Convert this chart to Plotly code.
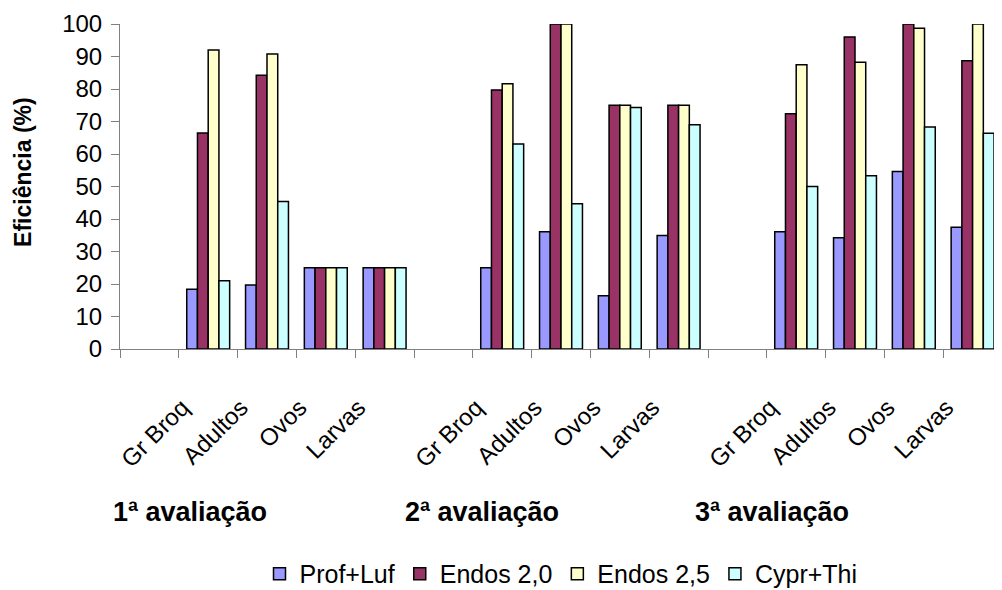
import plotly.graph_objects as go

# ---- data ----
categories = ["", "Gr Broq", "Adultos", "Ovos", "Larvas",
              "", "Gr Broq", "Adultos", "Ovos", "Larvas",
              "", "Gr Broq", "Adultos", "Ovos", "Larvas"]
evaluations = ["1ª avaliação", "2ª avaliação", "3ª avaliação"]

prof_luf = [None, 18.4, 19.7, 25, 25, None, 25, 36.1, 16.4, 34.9, None, 36.1, 34.2, 54.6, 37.5]
endos_20 = [None, 66.5, 84.2, 25, 25, None, 79.7, 100, 75, 75, None, 72.4, 96.0, 100, 88.7]
endos_25 = [None, 92.0, 90.8, 25, 25, None, 81.6, 100, 75, 75, None, 87.5, 88.2, 98.7, 100]
cypr_thi = [None, 21.0, 45.4, 25, 25, None, 63.1, 44.7, 74.3, 69.0, None, 50.0, 53.3, 68.3, 66.4]

series_names = ["Prof+Luf", "Endos 2,0", "Endos 2,5", "Cypr+Thi"]
series_values = [prof_luf, endos_20, endos_25, cypr_thi]
series_colors = ["#9999FF", "#993366", "#FFFFCC", "#CCFFFF"]

FONT = "Liberation Sans, Arial, sans-serif"
AXIS_GRAY = "#808080"

# page body has an 8px default margin, so the figure is sized to fit the window
W, H = 994, 582
ML, MT, MB = 112, 16, 241
PW = W - ML
PH = H - MT - MB

x_idx = list(range(len(categories)))

fig = go.Figure()
for name, vals, col in zip(series_names, series_values, series_colors):
    fig.add_trace(go.Bar(
        x=x_idx, y=vals, name=name,
        marker=dict(color=col, line=dict(color="black", width=1.5)),
    ))

fig.update_layout(
    width=W, height=H,
    margin=dict(l=ML, r=0, t=MT, b=MB, autoexpand=False),
    plot_bgcolor="white", paper_bgcolor="white",
    barmode="group", bargap=0.27, bargroupgap=0,
    font=dict(family=FONT, size=24, color="black"),
    showlegend=True,
    legend=dict(orientation="h", x=0.5, xanchor="center", y=-0.692, yanchor="middle",
                font=dict(size=25), itemwidth=30, tracegroupgap=0,
                bgcolor="rgba(0,0,0,0)"),
)

fig.update_xaxes(
    range=[-0.5, len(categories) - 0.5],
    tickmode="array", tickvals=x_idx, ticktext=categories,
    tickangle=-45, ticks="", tickfont=dict(size=24),
    ticklabelstandoff=34, ticklabelshift=-26,
    showline=True, linecolor=AXIS_GRAY, linewidth=1,
    showgrid=False, zeroline=False, automargin=False,
    minor=dict(tick0=-0.5, dtick=1, ticks="outside", ticklen=8,
               tickcolor=AXIS_GRAY, tickwidth=1, showgrid=False),
)

fig.update_yaxes(
    range=[0, 100], dtick=10, tick0=0,
    ticks="outside", ticklen=8, tickcolor=AXIS_GRAY, tickwidth=1,
    ticklabelstandoff=4,
    showline=True, linecolor=AXIS_GRAY, linewidth=1,
    showgrid=False, zeroline=False, automargin=False,
    tickfont=dict(size=24),
)

# y axis title
fig.add_annotation(text="<b>Eficiência (%)</b>", textangle=-90,
                   xref="paper", yref="paper", x=(15 - ML) / PW, y=0.545,
                   xanchor="center", yanchor="middle", showarrow=False,
                   font=dict(size=23, family=FONT))

# evaluation group labels (page x centres minus body offset)
group_px = [182, 474, 764]
for ev, px in zip(evaluations, group_px):
    fig.add_annotation(text="<b>" + ev + "</b>", xref="paper", yref="paper",
                       x=(px - ML) / PW, y=-0.5015,
                       xanchor="center", yanchor="middle", showarrow=False,
                       font=dict(size=27, family=FONT))

fig.write_html("out.html")
